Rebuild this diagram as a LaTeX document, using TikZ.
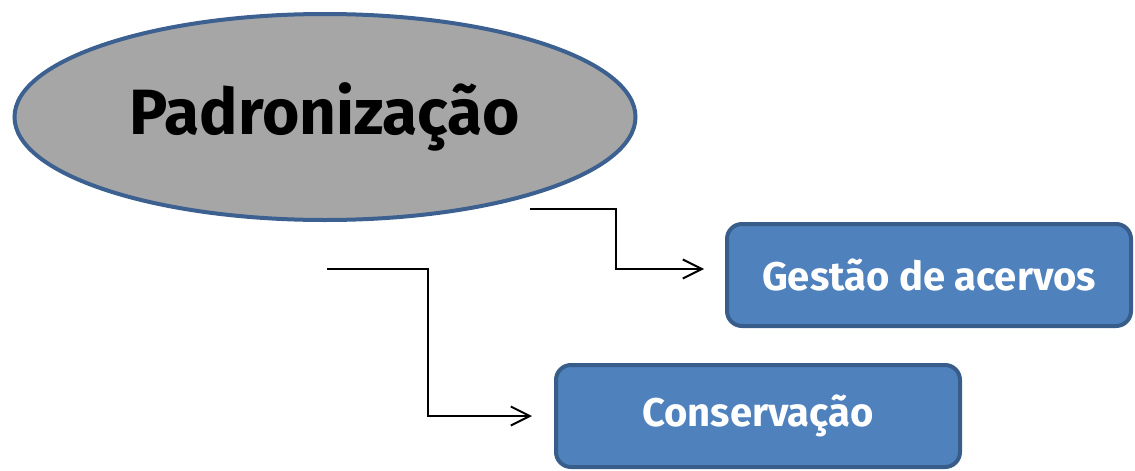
\documentclass[tikz,border=0pt]{standalone}
\usepackage{fontspec}
\setmainfont{Fira Sans}
\usetikzlibrary{shapes.geometric, arrows.meta}

\definecolor{ovalfill}{HTML}{A6A6A6}
\definecolor{ovalline}{HTML}{3C6090}
\definecolor{boxfill}{HTML}{4F81BD}
\definecolor{boxline}{HTML}{385D8A}

\tikzstyle{oval}=[ellipse, draw=ovalline, fill=ovalfill, line width=4pt, minimum width=621pt, minimum height=206pt, font=\fontsize{64}{70}\selectfont\bfseries]
\tikzstyle{topic}=[draw=boxline, fill=boxfill, line width=4pt, rounded corners=15pt, text=white, minimum width=404pt, minimum height=102pt, font=\fontsize{40}{46}\selectfont\bfseries]
\tikzstyle{link}=[line width=2pt, -{Straight Barb[length=19pt, width=19pt, line width=2pt]}]

\begin{document}
\begin{tikzpicture}[x=1pt, y=-1pt]
      \useasboundingbox (0, 0) rectangle (1135, 471);
      \node[oval] (pad) at (325, 117) {Padronização};
      \node[topic] (gestao) at (929, 275) {Gestão de acervos};
      \node[topic] (cons) at (758, 416) {Conservação};

      \coordinate (s1) at (530, 209);
      \coordinate (s2) at (327, 269);

      \draw[link, shorten >=21pt] (s1) -- ++(86, 0) |- ([yshift=6pt]gestao.west);
      \draw[link, shorten >=22pt] (s2) -- ++(101, 0) |- (cons.west);
    \end{tikzpicture}
\end{document}
